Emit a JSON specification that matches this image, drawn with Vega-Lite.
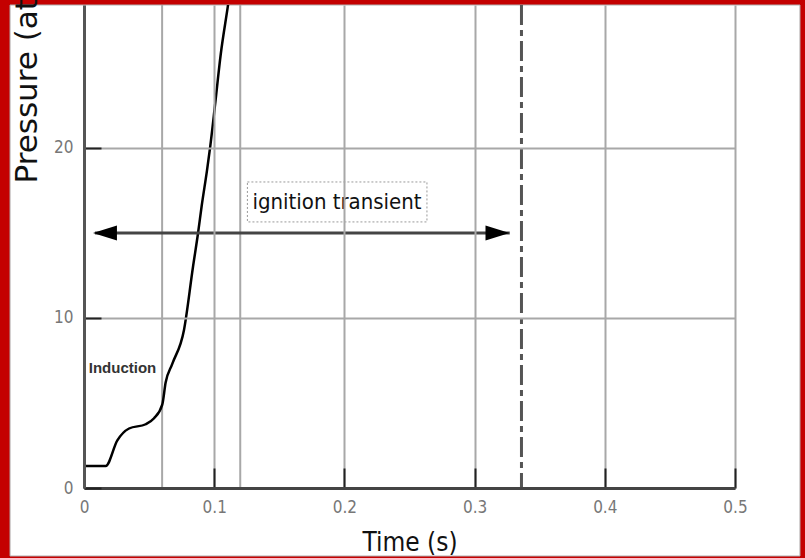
{
  "$schema": "https://vega.github.io/schema/vega-lite/v6.json",
  "width": 651,
  "height": 483,
  "autosize": {"type": "none"},
  "padding": {"left": 84, "top": 5, "right": 70, "bottom": 70},
  "background": "#c40000",
  "config": {"view": {"stroke": null}},
  "datasets": {
    "curve": [
      {"t": 0, "p": 1.3}, {"t": 0.0167, "p": 1.3}, {"t": 0.0256, "p": 2.8},
      {"t": 0.0346, "p": 3.5}, {"t": 0.0474, "p": 3.75}, {"t": 0.0538, "p": 4.1},
      {"t": 0.0601, "p": 4.9}, {"t": 0.0627, "p": 6.2}, {"t": 0.0678, "p": 7.3},
      {"t": 0.0768, "p": 9.3}, {"t": 0.0837, "p": 13.0}, {"t": 0.0876, "p": 15.0},
      {"t": 0.0904, "p": 16.6}, {"t": 0.0945, "p": 18.7}, {"t": 0.0968, "p": 20.0},
      {"t": 0.1006, "p": 22.5}, {"t": 0.105, "p": 25.5}, {"t": 0.1106, "p": 28.4},
      {"t": 0.1135, "p": 30.0}
    ],
    "markers": [{"t": 0.06}, {"t": 0.12}],
    "transient": [{"t_start": 0.0084, "t_end": 0.327, "p": 15, "label": "ignition transient", "t_label": 0.1943, "p_label": 16.82, "box_t1": 0.1255, "box_t2": 0.2634, "box_p1": 18.0, "box_p2": 15.65}],
    "heads": [
      {"t": 0.0161, "p": 15, "dir": "left"},
      {"t": 0.3176, "p": 15, "dir": "right"}
    ],
    "phase": [{"t": 0.0296, "p": 7.03, "label": "Induction"}],
    "steady": [{"t": 0.336}]
  },
  "layer": [
    {
      "data": {"values": [{}]},
      "mark": {"type": "rect", "fill": "white", "stroke": "#b0b0b0", "strokeWidth": 1, "clip": false},
      "encoding": {
        "x": {"datum": -0.0568, "type": "quantitative", "scale": {"domain": [0, 0.5], "nice": false, "zero": false}},
        "x2": {"datum": 0.5499},
        "y": {"datum": 28.41, "type": "quantitative", "scale": {"domain": [0, 28.41], "nice": false}},
        "y2": {"datum": -4.0}
      }
    },
    {
      "data": {"name": "markers"},
      "mark": {"type": "rule", "stroke": "#a8a8a8", "strokeWidth": 2},
      "encoding": {"x": {"field": "t", "type": "quantitative"}}
    },
    {
      "data": {"name": "steady"},
      "mark": {"type": "rule", "stroke": "#555555", "strokeWidth": 3, "strokeDash": [20, 5, 6, 5]},
      "encoding": {"x": {"field": "t", "type": "quantitative"}}
    },
    {
      "data": {"name": "curve"},
      "mark": {"type": "line", "color": "black", "strokeWidth": 2.5, "interpolate": "monotone", "clip": true},
      "encoding": {
        "x": {
          "field": "t", "type": "quantitative",
          "scale": {"domain": [0, 0.5], "nice": false, "zero": false},
          "axis": {
            "title": "Time (s)", "values": [0, 0.1, 0.2, 0.3, 0.4, 0.5], "format": "~g",
            "zindex": 1, "grid": true, "gridColor": "#a8a8a8", "gridWidth": 2, "gridOpacity": 1,
            "domainColor": "#444444", "domainWidth": 3,
            "ticks": true, "tickSize": -20, "tickColor": "#222222", "tickWidth": 2,
            "labelPadding": 31, "labelFont": "DejaVu Sans Condensed, Liberation Sans, sans-serif",
            "labelFontSize": 17, "labelColor": "#777777", "labelFlush": false,
            "titleFont": "DejaVu Sans Condensed, Liberation Sans, sans-serif",
            "titleFontSize": 26, "titleFontWeight": "normal", "titleColor": "#111111",
            "titleY": 62, "titleBaseline": "alphabetic"
          }
        },
        "y": {
          "field": "p", "type": "quantitative",
          "scale": {"domain": [0, 28.41], "nice": false},
          "axis": {
            "title": "Pressure (atm)", "values": [0, 10, 20],
            "zindex": 1, "grid": true, "gridColor": "#a8a8a8", "gridWidth": 2, "gridOpacity": 1,
            "domainColor": "#555555", "domainWidth": 3,
            "ticks": true, "tickSize": -17, "tickColor": "#222222", "tickWidth": 2,
            "labelPadding": 28, "labelFont": "DejaVu Sans Condensed, Liberation Sans, sans-serif",
            "labelFontSize": 17, "labelColor": "#777777", "labelFlush": false,
            "titleFont": "DejaVu Sans, sans-serif", "titleFontSize": 31, "titleFontWeight": "normal",
            "titleColor": "#111111", "titleAngle": -90, "titleX": -48, "titleY": 178,
            "titleAlign": "left", "titleBaseline": "alphabetic"
          }
        }
      }
    },
    {
      "data": {"name": "transient"},
      "mark": {"type": "rule", "stroke": "#444444", "strokeWidth": 3},
      "encoding": {
        "x": {"field": "t_start", "type": "quantitative"},
        "x2": {"field": "t_end"},
        "y": {"field": "p", "type": "quantitative"}
      }
    },
    {
      "data": {"name": "heads"},
      "mark": {"type": "point", "filled": true, "color": "black", "opacity": 1, "size": 576},
      "encoding": {
        "x": {"field": "t", "type": "quantitative"},
        "y": {"field": "p", "type": "quantitative"},
        "shape": {
          "field": "dir", "type": "nominal", "legend": null,
          "scale": {"domain": ["left", "right"], "range": ["M-1,0L1,-0.62L1,0.62Z", "M1,0L-1,-0.62L-1,0.62Z"]}
        }
      }
    },
    {
      "data": {"name": "transient"},
      "mark": {"type": "rect", "fill": "white", "stroke": "#999999", "strokeWidth": 1, "strokeDash": [2, 2]},
      "encoding": {
        "x": {"field": "box_t1", "type": "quantitative"},
        "x2": {"field": "box_t2"},
        "y": {"field": "box_p1", "type": "quantitative"},
        "y2": {"field": "box_p2"}
      }
    },
    {
      "data": {"name": "transient"},
      "mark": {"type": "text", "font": "DejaVu Sans Condensed, Liberation Sans, sans-serif", "fontSize": 22, "color": "#111111", "align": "center", "baseline": "middle"},
      "encoding": {
        "x": {"field": "t_label", "type": "quantitative"},
        "y": {"field": "p_label", "type": "quantitative"},
        "text": {"field": "label"}
      }
    },
    {
      "data": {"name": "phase"},
      "mark": {"type": "text", "font": "Liberation Sans, sans-serif", "fontSize": 15, "fontWeight": "bold", "color": "#333333", "align": "center", "baseline": "middle"},
      "encoding": {
        "x": {"field": "t", "type": "quantitative"},
        "y": {"field": "p", "type": "quantitative"},
        "text": {"field": "label"}
      }
    }
  ]
}
